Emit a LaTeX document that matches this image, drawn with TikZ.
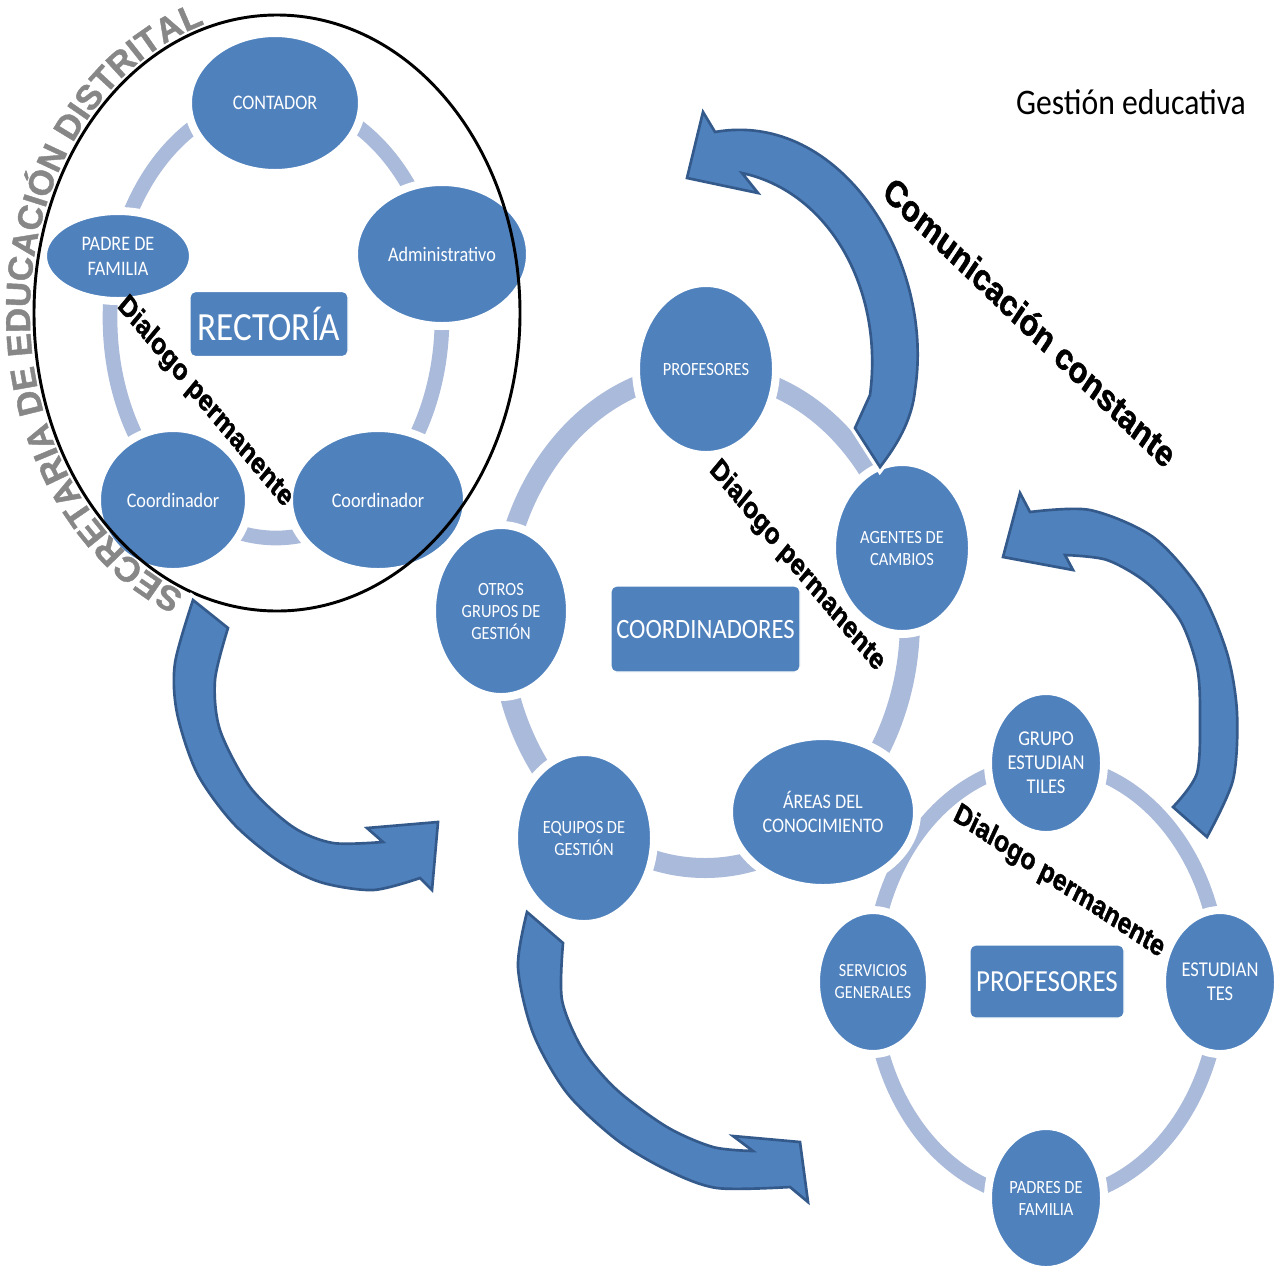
\documentclass[tikz,border=0pt]{standalone}
\usepackage{fontspec}
\setmainfont{Carlito}[FakeStretch=0.88]
\newfontfamily\arialb{Liberation Sans Bold}[FakeBold=1.6]
\newfontfamily\arialc{Liberation Sans Bold}[FakeBold=1.2]
\usetikzlibrary{shapes.geometric,decorations.text}
\definecolor{nodeblue}{RGB}{79,129,189}
\definecolor{ringblue}{RGB}{170,186,218}
\definecolor{arrowedge}{RGB}{52,90,140}
\definecolor{arcgray}{RGB}{135,135,135}
\newcommand{\fs}[2]{\fontsize{#1pt}{#2pt}\selectfont}
\newcommand{\arcfont}{\arialc\fontsize{26pt}{28pt}\selectfont\color{arcgray}}
\begin{document}
\begin{tikzpicture}[x=0.75pt,y=-0.75pt,
 bub/.style 2 args={ellipse, fill=nodeblue, draw=white, line width=6pt,
   minimum width={#1*1.5pt+6pt}, minimum height={#2*1.5pt+6pt},
   inner sep=0pt, text=white, align=center},
 lbl/.style={rectangle, rounded corners=4pt, fill=nodeblue, draw=white, line width=1pt, text=white, inner sep=0pt},
 ringline/.style={draw=ringblue, line width=#1},
 bigarrow/.style={fill=nodeblue, draw=arrowedge, line width=2pt, line join=miter, preaction={draw=white, line width=7pt}},
 dlg/.style={font=\arialb\fs{18.5}{22}, transform shape, inner sep=0pt},
]
\useasboundingbox (0,0) rectangle (1280,1265);
\fill[white] (0,0) rectangle (1280,1265);

% ring centres
\coordinate (ring1) at (276,318);
\coordinate (ring2) at (705,620);
\coordinate (ring3) at (1046,981);
\coordinate (bigell) at (277,313);

% rings
\draw[ringline=11pt] (ring1) ellipse [x radius=166, y radius=220];
\draw[ringline=15pt] (ring2) ellipse [x radius=205, y radius=248];
\draw[ringline=11pt] (ring3) ellipse [x radius=174, y radius=218];

% cluster 1
\node[bub={83}{66}, font=\fs{15.5}{18}] (contador) at (275,103) {CONTADOR};
\node[bub={84}{68}, font=\fs{15.5}{18}] (admin) at (442,254) {Administrativo};
\node[bub={71}{41}, font=\fs{15.5}{18.75}] (padre) at (118,256) {PADRE DE\\FAMILIA};
\node[bub={72}{68}, font=\fs{15.5}{18}] (coordL) at (173,500) {Coordinador};
\node[bub={85}{68}, font=\fs{15.5}{18}] (coordR) at (378,500) {Coordinador};
\node[lbl, minimum width={158*0.75pt}, minimum height={65*0.75pt}, font=\fs{30}{33}] (rectoria) at (269,324) {RECTORÍA};

% cluster 2
\node[bub={66}{82}, font=\fs{14}{16.5}] (prof2) at (706,369) {PROFESORES};
\node[bub={66}{82}, font=\fs{14}{16.5}] (agentes) at (902,548) {AGENTES DE\\CAMBIOS};
\node[bub={90}{72}, font=\fs{15.5}{18}] (areas) at (823,812) {ÁREAS DEL\\CONOCIMIENTO};
\node[bub={66}{82}, font=\fs{14}{16.5}] (equipos) at (584,838) {EQUIPOS DE\\GESTIÓN};
\node[bub={65}{82}, font=\fs{14}{16.5}] (otros) at (501,611) {OTROS\\GRUPOS DE\\GESTIÓN};
\node[lbl, minimum width={189*0.75pt}, minimum height={86*0.75pt}, font=\fs{21}{24}] (coordinadores) at (705.5,629) {COORDINADORES};

% cluster 3
\node[bub={54}{68}, font=\fs{15.8}{18}] (grupo) at (1046,763) {GRUPO\\ESTUDIAN\\TILES};
\node[bub={54}{68}, font=\fs{15.8}{18}] (estud) at (1220,982) {ESTUDIAN\\TES};
\node[bub={53}{68}, font=\fs{13.8}{16.5}] (serv) at (873,982) {SERVICIOS\\GENERALES};
\node[bub={54}{68}, font=\fs{14}{16.5}] (padres) at (1046,1198) {PADRES DE\\FAMILIA};
\node[lbl, minimum width={154*0.75pt}, minimum height={73*0.75pt}, font=\fs{23}{26}] (profesores) at (1047,981.5) {PROFESORES};

% big black ellipse
\draw[line width=2.2pt] (bigell) ellipse [x radius=243, y radius=298];

% curved arrows
\path[bigarrow] (855,428) -- (870,395) .. controls (884,290) and (830,192) .. (742,173)
  -- (758,193) -- (687,178) -- (703,112) -- (715,132)
  .. controls (840,110) and (935,260) .. (915,390)
  .. controls (912,420) and (897,445) .. (880,467) -- cycle;

\path[bigarrow] plot[smooth] coordinates {(1173,807) (1197,773) (1200,713) (1197,667) (1180,620) (1147,583) (1107,560) (1065,555)}
  -- (1073,570) -- (1003,557) -- (1020,493) -- (1030,512)
  -- plot[smooth] coordinates {(1030,512) (1090,510) (1153,537) (1200,590) (1227,653) (1237,713) (1233,780) (1207,837)} -- cycle;

\path[bigarrow] plot[smooth] coordinates {(228,628) (215,680) (220,730) (250,787) (293,827) (333,843) (383,842)}
  -- (367,828) -- (438,822) -- (432,890) -- (420,878)
  -- plot[smooth] coordinates {(420,878) (373,890) (320,882) (277,860) (233,823) (197,773) (177,713) (175,663) (193,600)} -- cycle;

\path[bigarrow] plot[smooth] coordinates {(563,943) (562,1000) (583,1050) (617,1090) (667,1127) (713,1147) (753,1151)}
  -- (733,1136) -- (800,1142) -- (808,1202) -- (790,1187)
  -- plot[smooth] coordinates {(790,1187) (717,1188) (667,1170) (617,1140) (567,1093) (533,1033) (518,967) (527,912)} -- cycle;

% text around the big ellipse
\path[decorate, decoration={text along path, text align=fit to path,
   text={|\arcfont|SECRETARIA DE EDUCACIÓN DISTRITAL}}]
  ([shift={(bigell)}]112:247 and 302) arc[start angle=112, end angle=253, x radius=247, y radius=302];

% rotated labels
\begin{scope}[shift={(205,402)}, yscale=1.2]
\node[dlg, rotate=-45] (dlg1) at (0,0) {Dialogo permanente};
\end{scope}
\begin{scope}[shift={(797,566)}, yscale=1.2]
\node[dlg, rotate=-45] (dlg2) at (0,0) {Dialogo permanente};
\end{scope}
\begin{scope}[shift={(1059,882)}, yscale=1.2]
\node[dlg, rotate=-29] (dlg3) at (0,0) {Dialogo permanente};
\end{scope}
\begin{scope}[shift={(1030,322)}, yscale=1.2]
\node[dlg, font=\arialb\fs{23}{27}, rotate=-38.8] (com) at (0,0) {Comunicación constante};
\end{scope}

\node[font=\fs{27}{30}, inner sep=0pt] (title) at (1131,102) {Gestión educativa};
\end{tikzpicture}
\end{document}
